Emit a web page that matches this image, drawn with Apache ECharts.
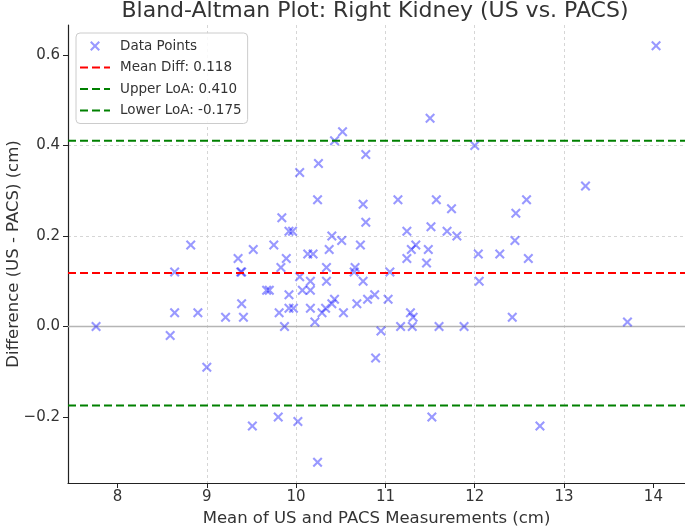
<!DOCTYPE html>
<html><head><meta charset="utf-8">
<script src="https://cdn.jsdelivr.net/npm/echarts@6/dist/echarts.min.js"></script>
<style>html,body{margin:0;padding:0;background:#fff}#c{width:685px;height:526px}</style>
</head><body><div id="c"></div>
<script>
// Data
const meanX = [7.76, 8.59, 8.64, 8.64, 8.82, 8.90, 9.00, 9.21, 9.35, 9.38, 9.39, 9.39, 9.41, 9.51, 9.52, 9.67, 9.70, 9.75, 9.80, 9.81, 9.83, 9.84, 9.87, 9.89, 9.92, 9.92, 9.97, 9.92, 9.96, 10.02, 10.04, 10.04, 10.07, 10.16, 10.16, 10.16, 10.13, 10.19, 10.21, 10.24, 10.24, 10.25, 10.29, 10.33, 10.34, 10.34, 10.37, 10.40, 10.40, 10.43, 10.43, 10.51, 10.52, 10.53, 10.65, 10.66, 10.68, 10.72, 10.75, 10.75, 10.78, 10.78, 10.80, 10.88, 10.89, 10.95, 11.03, 11.05, 11.14, 11.17, 11.24, 11.24, 11.28, 11.29, 11.30, 11.31, 11.34, 11.46, 11.48, 11.50, 11.51, 11.52, 11.57, 11.60, 11.69, 11.74, 11.80, 11.88, 12.00, 12.04, 12.05, 12.28, 12.42, 12.45, 12.46, 12.58, 12.60, 12.73, 13.24, 13.71, 14.03];
const diffY = [0.00, -0.02, 0.03, 0.12, 0.18, 0.03, -0.09, 0.02, 0.15, 0.12, 0.12, 0.05, 0.02, -0.22, 0.17, 0.08, 0.08, 0.18, -0.20, 0.03, 0.13, 0.24, 0.00, 0.15, 0.07, 0.04, 0.04, 0.21, 0.21, -0.21, 0.34, 0.11, 0.08, 0.10, 0.08, 0.04, 0.16, 0.16, 0.01, -0.30, 0.28, 0.36, 0.03, 0.04, 0.13, 0.10, 0.17, 0.05, 0.20, 0.06, 0.41, 0.19, 0.43, 0.03, 0.12, 0.13, 0.05, 0.18, 0.27, 0.10, 0.23, 0.38, 0.06, 0.07, -0.07, -0.01, 0.06, 0.12, 0.28, 0.00, 0.21, 0.15, 0.03, 0.17, 0.00, 0.02, 0.18, 0.14, 0.17, 0.46, 0.22, -0.20, 0.28, 0.00, 0.21, 0.26, 0.20, 0.00, 0.40, 0.16, 0.10, 0.16, 0.02, 0.19, 0.25, 0.28, 0.15, -0.22, 0.31, 0.01, 0.62];
const meanDiff = 0.118;
const upperLoA = 0.410;
const lowerLoA = -0.175;
const xTicks = [8, 9, 10, 11, 12, 13, 14];
const yTicks = [-0.2, 0, 0.2, 0.4, 0.6];
const xRange = [7.446, 14.354];
const yRange = [-0.346, 0.666];

const points = meanX.map((x, i) => [x, diffY[i]]);
const hline = v => [[xRange[0], v], [xRange[1], v]];
const fmtY = v => v.toFixed(1).replace('-', '\u2212');
const X_PATH = 'path://M0,1.5L1.5,0L5,3.5L8.5,0L10,1.5L6.5,5L10,8.5L8.5,10L5,6.5L1.5,10L0,8.5L3.5,5Z';
const FONT = 'DejaVu Sans';
const hideSym = name => ({name: name, itemStyle: {opacity: 0}});

const chart = echarts.init(document.getElementById('c'), null, {renderer: 'canvas'});
chart.setOption({
  animation: false,
  backgroundColor: '#fff',
  textStyle: {fontFamily: FONT},
  title: {
    text: 'Bland-Altman Plot: Right Kidney (US vs. PACS)',
    left: 370, top: -5, textAlign: 'center',
    textStyle: {fontFamily: FONT, fontSize: 22, fontWeight: 'normal', color: '#333'}
  },
  legend: {
    left: 76, top: 33, orient: 'vertical',
    backgroundColor: 'rgba(255,255,255,0.85)', borderColor: '#ccc', borderWidth: 1, borderRadius: 4,
    padding: [6, 6, 6, 3], itemGap: 7.5, itemWidth: 30, itemHeight: 10,
    textStyle: {fontFamily: FONT, fontSize: 13.5, color: '#333', padding: [0, 0, 0, 5]},
    data: [
      {name: 'Data Points', icon: X_PATH},
      hideSym('Mean Diff: 0.118'), hideSym('Upper LoA: 0.410'), hideSym('Lower LoA: -0.175')
    ]
  },
  grid: {left: 68, right: 0, top: 25, bottom: 43, containLabel: false, outerBoundsMode: 'none'},
  xAxis: {
    type: 'value', min: xRange[0], max: xRange[1], splitNumber: 7,
    name: 'Mean of US and PACS Measurements (cm)', nameLocation: 'middle', nameGap: 27,
    nameMoveOverlap: false,
    nameTextStyle: {fontFamily: FONT, fontSize: 16.5, color: '#333'},
    axisLine: {show: true, onZero: false, lineStyle: {color: '#222', width: 1.2}},
    axisTick: {show: true, length: 5, lineStyle: {color: '#222'}, customValues: xTicks},
    axisLabel: {fontFamily: FONT, fontSize: 15, color: '#333', margin: 7, customValues: xTicks},
    splitLine: {show: true, showMinLine: false, showMaxLine: false, lineStyle: {color: '#d6d6d6', type: [3, 3], width: 1}}
  },
  yAxis: {
    type: 'value', min: yRange[0], max: yRange[1], splitNumber: 5,
    name: 'Difference (US - PACS) (cm)', nameLocation: 'middle', nameGap: 46,
    nameMoveOverlap: false,
    nameTextStyle: {fontFamily: FONT, fontSize: 16.5, color: '#333'},
    axisLine: {show: true, onZero: false, lineStyle: {color: '#222', width: 1.2}},
    axisTick: {show: true, length: 5, lineStyle: {color: '#222'}, customValues: yTicks},
    axisLabel: {fontFamily: FONT, fontSize: 15, color: '#333', margin: 8, customValues: yTicks, formatter: fmtY},
    splitLine: {show: true, showMinLine: false, showMaxLine: false, lineStyle: {color: '#d6d6d6', type: [3, 3], width: 1}}
  },
  series: [
    {
      name: 'Zero', type: 'line', data: hline(0), symbol: 'none', silent: true,
      lineStyle: {color: '#b5b5b5', width: 1.5, type: 'solid'}, z: 1
    },
    {
      name: 'Data Points', type: 'scatter', data: points, symbol: X_PATH, symbolSize: 10,
      itemStyle: {color: 'rgba(0,0,255,0.5)'}, z: 3
    },
    {
      name: 'Mean Diff: 0.118', type: 'line', data: hline(meanDiff), symbol: 'none',
      lineStyle: {color: '#ff0000', width: 2, type: [8, 4]}, itemStyle: {color: '#ff0000'}, z: 4
    },
    {
      name: 'Upper LoA: 0.410', type: 'line', data: hline(upperLoA), symbol: 'none',
      lineStyle: {color: '#008000', width: 2, type: [8, 4]}, itemStyle: {color: '#008000'}, z: 4
    },
    {
      name: 'Lower LoA: -0.175', type: 'line', data: hline(lowerLoA), symbol: 'none',
      lineStyle: {color: '#008000', width: 2, type: [8, 4]}, itemStyle: {color: '#008000'}, z: 4
    }
  ]
});
</script></body></html>
